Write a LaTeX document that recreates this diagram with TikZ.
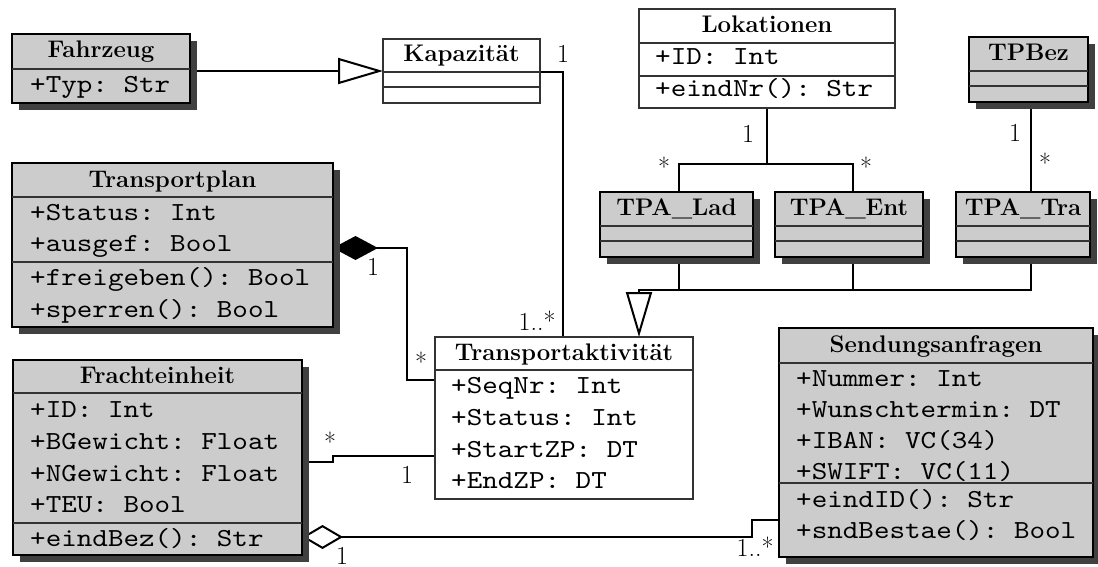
\documentclass[tikz,border=0pt]{standalone}
\usepackage{fontspec}
\setmonofont[FakeStretch=1.14]{lmmono10-regular.otf}
\usetikzlibrary{arrows.meta,calc}
\pgfdeclarelayer{background}
\pgfsetlayers{background,main}

\definecolor{boxgray}{HTML}{CCCCCC}
\definecolor{shadowgray}{HTML}{404040}
\definecolor{rulegray}{HTML}{333333}

\tikzset{
  grey class/.style={rectangle, draw=black, line width=2.4pt, fill=boxgray,
    inner sep=0pt, outer sep=0pt,
    preaction={fill=shadowgray, transform canvas={shift={(7pt,-7pt)}}}},
  white class/.style={rectangle, draw=rulegray, line width=1.4pt, fill=white,
    inner sep=0pt, outer sep=0pt},
  sepline/.style={draw=rulegray, line width=1.3pt},
  ctitle/.style={anchor=base, inner sep=0pt, font=\bfseries\fontsize{24}{24}\selectfont},
  attr/.style={anchor=base west, inner sep=0pt, font=\ttfamily\fontsize{26}{26}\selectfont},
  mult/.style={anchor=base, inner sep=0pt, font=\fontsize{26}{26}\selectfont},
  conn/.style={draw=black, line width=2pt},
  generalization/.style={conn, -{Triangle[open, length=45pt, width=26pt, line width=2pt]}},
  composition/.style={conn, -{Diamond[length=45pt, width=24pt]}},
  aggregation/.style={conn, -{Diamond[open, length=41pt, width=24pt, line width=2pt]}},
}

% class frame: style, name, left, top, right, bottom
\newcommand{\umlclass}[6]{%
  \node[#1, minimum width={(#5)-(#3)}, minimum height={(#6)-(#4)}, anchor=north west] (#2) at (#3,#4) {};}
% compartment rule across a class at height y
\newcommand{\umlsep}[2]{\draw[sepline] (#1.west |- 0,#2) -- (#1.east |- 0,#2);}

\begin{document}
\begin{tikzpicture}[x=1pt,y=-1pt]
\useasboundingbox (0,0) rectangle (1098,567);

% ---------- classes ----------
\umlclass{grey class}{fz}{12}{34}{190}{103}
\umlsep{fz}{69}
\node[ctitle] (fz-t) at (fz.north |- 0,58) {Fahrzeug};
\node[attr] (fz-a1) at (30,93) {+Typ: Str};

\umlclass{white class}{kap}{383}{39}{540}{103}
\umlsep{kap}{72}
\umlsep{kap}{87}
\node[ctitle] (kap-t) at (kap.north |- 0,62) {Kapazität};

\umlclass{white class}{lok}{639}{9}{895}{108}
\umlsep{lok}{43}
\umlsep{lok}{76}
\node[ctitle] (lok-t) at (lok.north |- 0,33) {Lokationen};
\node[attr] (lok-a1) at (655,65) {+ID: Int};
\node[attr] (lok-m1) at (655,97) {+eindNr(): Str};

\umlclass{grey class}{tpb}{969}{37}{1088}{102}
\umlsep{tpb}{71}
\umlsep{tpb}{86}
\node[ctitle] (tpb-t) at (tpb.north |- 0,61) {TPBez};

\umlclass{grey class}{lad}{600}{192}{753}{257}
\umlsep{lad}{226}
\umlsep{lad}{241}
\node[ctitle] (lad-t) at (lad.north |- 0,215) {TPA\_Lad};

\umlclass{grey class}{ent}{775}{192}{923}{257}
\umlsep{ent}{226}
\umlsep{ent}{241}
\node[ctitle] (ent-t) at (ent.north |- 0,215) {TPA\_Ent};

\umlclass{grey class}{tra}{956}{192}{1090}{257}
\umlsep{tra}{226}
\umlsep{tra}{241}
\node[ctitle] (tra-t) at (tra.north |- 0,215) {TPA\_Tra};

\umlclass{grey class}{tp}{12}{163}{333}{327}
\umlsep{tp}{197}
\umlsep{tp}{262}
\node[ctitle] (tp-t) at (tp.north |- 0,187) {Transportplan};
\node[attr] (tp-a1) at (30,220) {+Status: Int};
\node[attr] (tp-a2) at (30,251) {+ausgef: Bool};
\node[attr] (tp-m1) at (30,285) {+freigeben(): Bool};
\node[attr] (tp-m2) at (30,317) {+sperren(): Bool};

\umlclass{white class}{ta}{435}{337}{693}{499}
\umlsep{ta}{370}
\node[ctitle] (ta-t) at (ta.north |- 0,360) {Transportaktivität};
\node[attr] (ta-a1) at (451,393) {+SeqNr: Int};
\node[attr] (ta-a2) at (451,425) {+Status: Int};
\node[attr] (ta-a3) at (451,457) {+StartZP: DT};
\node[attr] (ta-a4) at (451,488) {+EndZP: DT};

\umlclass{grey class}{fe}{13}{360}{302}{555}
\umlsep{fe}{393}
\umlsep{fe}{523}
\node[ctitle] (fe-t) at (fe.north |- 0,383) {Frachteinheit};
\node[attr] (fe-a1) at (30,417) {+ID: Int};
\node[attr] (fe-a2) at (30,449) {+BGewicht: Float};
\node[attr] (fe-a3) at (30,481) {+NGewicht: Float};
\node[attr] (fe-a4) at (30,512) {+TEU: Bool};
\node[attr] (fe-m1) at (30,546) {+eindBez(): Str};

\umlclass{grey class}{sa}{779}{328}{1093}{557}
\umlsep{sa}{363}
\umlsep{sa}{483}
\node[ctitle] (sa-t) at (sa.north |- 0,352) {Sendungsanfragen};
\node[attr] (sa-a1) at (796,386) {+Nummer: Int};
\node[attr] (sa-a2) at (796,417) {+Wunschtermin: DT};
\node[attr] (sa-a3) at (796,448) {+IBAN: VC(34)};
\node[attr] (sa-a4) at (796,479) {+SWIFT: VC(11)};
\node[attr] (sa-m1) at (796,507) {+eindID(): Str};
\node[attr] (sa-m2) at (796,538) {+sndBestae(): Bool};

% ---------- relations ----------
\begin{pgfonlayer}{background}
  \fill[white] (0,0) rectangle (1098,567);
  \draw[generalization] (fz.east |- kap.west) -- (kap.west);
  \draw[conn] (kap.east |- 0,72) -| (ta.north -| 563,0);
  \draw[composition] (ta.west |- 0,380) -| (407,248) -- (tp.east |- 0,248);
  \draw[conn] (fe.east |- 0,462) -- (333,462) -- (333,456) -- (ta.west |- 0,456);
  \draw[aggregation] (sa.west |- 0,520) -- (752,520) -- (752,537) -- (fe.east |- 0,537);
  \draw[conn] (lok.south) -- (767,164);
  \draw[conn] (lad.north -| 679,0) -- (679,164) -- (853,164) -- (ent.north -| 853,0);
  \draw[conn] (tpb.south -| 1031,0) -- (tra.north -| 1031,0);
  \draw[conn] (lad.south -| 679,0) -- (679,290);
  \draw[conn] (ent.south -| 853,0) -- (853,290);
  \draw[generalization] (tra.south -| 1031,0) |- (639,290) -- (ta.north -| 639,0);
\end{pgfonlayer}

% ---------- multiplicities ----------
\node[mult] (m1) at (563,63) {1};
\node[mult] (m2) at (537,330) {1..*};
\node[mult] (m3) at (373,275) {1};
\node[mult] (m4) at (421,371) {*};
\node[mult] (m5) at (330,451) {*};
\node[mult] (m6) at (407,483) {1};
\node[mult] (m7) at (342,564) {1};
\node[mult] (m8) at (755,556) {1..*};
\node[mult] (m9) at (748,143) {1};
\node[mult] (m10) at (664,176) {*};
\node[mult] (m11) at (866,176) {*};
\node[mult] (m12) at (1015,142) {1};
\node[mult] (m13) at (1045,173) {*};
\end{tikzpicture}
\end{document}
